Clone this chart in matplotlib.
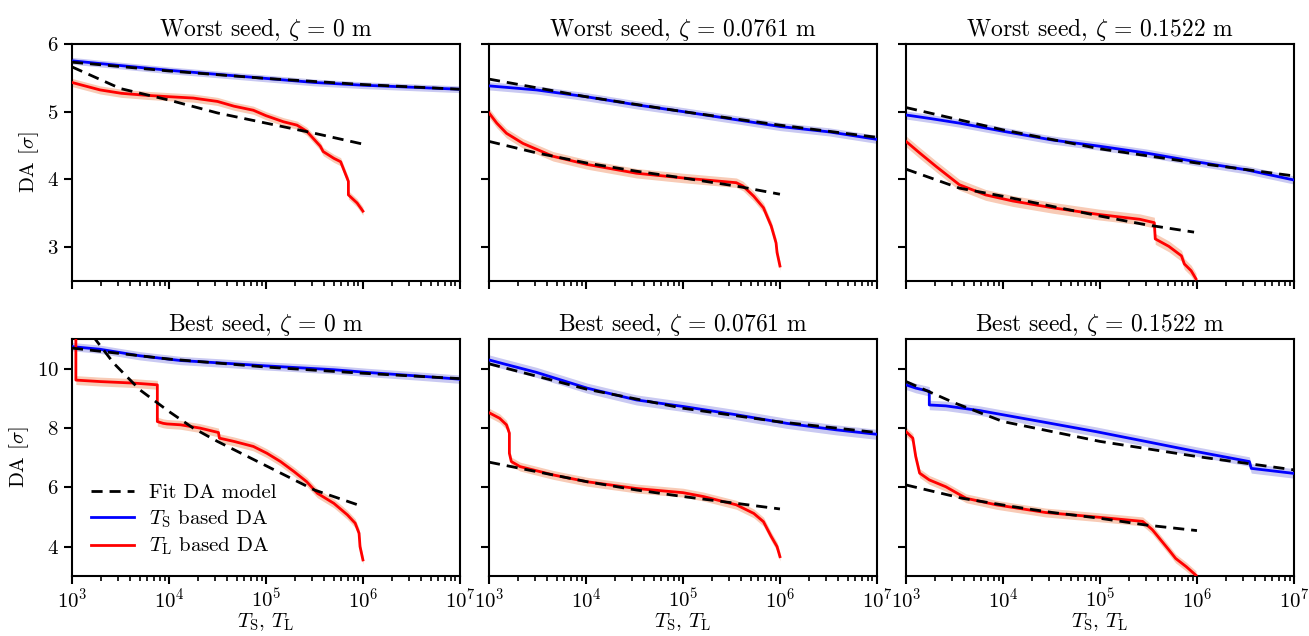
import numpy as np
import matplotlib
matplotlib.use("Agg")
import matplotlib.pyplot as plt

plt.rcParams['font.family'] = 'serif'
plt.rcParams['font.serif'] = ['cmr10']
plt.rcParams['mathtext.fontset'] = 'cm'
plt.rcParams['axes.formatter.use_mathtext'] = True
plt.rcParams['axes.unicode_minus'] = False

titles = [
    [r"Worst seed, $\zeta\,=\,0$ m", r"Worst seed, $\zeta\,=\,0.0761$ m", r"Worst seed, $\zeta\,=\,0.1522$ m"],
    [r"Best seed, $\zeta\,=\,0$ m", r"Best seed, $\zeta\,=\,0.0761$ m", r"Best seed, $\zeta\,=\,0.1522$ m"],
]
ylims = [(2.5, 6.0), (3.0, 11.0)]
yticks = [[3, 4, 5, 6], [4, 6, 8, 10]]

# ---- data: log10(T) and DA [sigma] ----
# Worst seed, zeta = 0
w0_ts_x = [3.0, 3.5, 4.0, 4.5, 5.0, 5.5, 6.0, 6.5, 7.0]
w0_ts_y = [5.75, 5.68, 5.61, 5.55, 5.49, 5.43, 5.39, 5.36, 5.33]
w0_tsfit_x = [3.0, 4.0, 5.0, 6.0, 7.0]
w0_tsfit_y = [5.73, 5.60, 5.49, 5.40, 5.33]
w0_tl_x = [3.0, 3.29, 3.51, 3.77, 4.0, 4.25, 4.5, 4.67, 4.87, 5.0, 5.18, 5.32, 5.42, 5.56, 5.59, 5.70, 5.77, 5.85, 5.85, 5.94, 6.0]
w0_tl_y = [5.43, 5.32, 5.27, 5.24, 5.22, 5.20, 5.15, 5.08, 5.02, 4.94, 4.85, 4.80, 4.71, 4.49, 4.41, 4.31, 4.26, 3.97, 3.77, 3.65, 3.53]
w0_tlfit_x = [3.0, 3.5, 4.0, 4.5, 5.0, 5.5, 6.0]
w0_tlfit_y = [5.66, 5.34, 5.17, 4.98, 4.83, 4.68, 4.52]

# Worst seed, zeta = 0.0761
w1_ts_x = [3.0, 3.49, 4.0, 4.52, 5.0, 5.55, 6.0, 6.51, 7.0]
w1_ts_y = [5.38, 5.32, 5.22, 5.10, 5.00, 4.88, 4.78, 4.70, 4.59]
w1_tsfit_x = [3.0, 4.0, 5.0, 6.0, 7.0]
w1_tsfit_y = [5.48, 5.22, 5.00, 4.80, 4.62]
w1_tl_x = [3.0, 3.08, 3.18, 3.35, 3.66, 4.01, 4.52, 5.0, 5.55, 5.62, 5.73, 5.83, 5.91, 5.96, 5.97, 6.0]
w1_tl_y = [4.98, 4.83, 4.68, 4.53, 4.34, 4.22, 4.09, 4.02, 3.95, 3.90, 3.75, 3.58, 3.31, 3.06, 2.92, 2.72]
w1_tlfit_x = [3.0, 3.49, 4.01, 4.52, 5.0, 5.55, 6.0]
w1_tlfit_y = [4.56, 4.39, 4.24, 4.12, 4.02, 3.90, 3.78]

# Worst seed, zeta = 0.1522
w2_ts_x = [3.0, 3.24, 3.55, 4.0, 4.51, 4.99, 5.47, 5.99, 6.51, 7.0]
w2_ts_y = [4.95, 4.90, 4.83, 4.71, 4.58, 4.49, 4.39, 4.26, 4.14, 3.99]
w2_tsfit_x = [3.0, 4.0, 5.0, 6.0, 7.0]
w2_tsfit_y = [5.06, 4.73, 4.45, 4.24, 4.05]
w2_tl_x = [3.0, 3.14, 3.31, 3.55, 3.82, 4.10, 4.51, 4.99, 5.41, 5.56, 5.57, 5.71, 5.84, 5.87, 5.94, 5.99]
w2_tl_y = [4.56, 4.39, 4.19, 3.92, 3.77, 3.68, 3.58, 3.48, 3.41, 3.36, 3.12, 3.01, 2.87, 2.75, 2.65, 2.53]
w2_tlfit_x = [3.0, 3.55, 4.0, 4.51, 4.99, 5.47, 5.97]
w2_tlfit_y = [4.15, 3.87, 3.75, 3.60, 3.46, 3.33, 3.22]

# Best seed, zeta = 0
b0_ts_x = [3.0, 3.29, 3.70, 4.12, 4.67, 5.0, 5.70, 6.04, 6.56, 7.0]
b0_ts_y = [10.75, 10.66, 10.44, 10.28, 10.17, 10.10, 9.97, 9.88, 9.76, 9.65]
b0_tsfit_x = [3.0, 4.0, 5.0, 6.0, 7.0]
b0_tsfit_y = [10.70, 10.33, 10.06, 9.85, 9.67]
b0_tl_x = [3.0, 3.04, 3.04, 3.29, 3.63, 3.88, 3.88, 3.94, 3.98, 4.12, 4.32, 4.51, 4.52, 4.67, 4.87, 5.01, 5.15, 5.29, 5.42, 5.53, 5.70, 5.84, 5.92, 5.96, 5.97, 6.0]
b0_tl_y = [11.5, 11.5, 9.62, 9.57, 9.52, 9.46, 8.22, 8.16, 8.14, 8.11, 8.00, 7.85, 7.66, 7.55, 7.38, 7.15, 6.87, 6.53, 6.19, 5.80, 5.46, 5.07, 4.79, 4.45, 4.00, 3.55]
b0_tlfit_x = [3.0, 3.24, 3.43, 3.70, 4.0, 4.25, 4.5, 5.0, 5.5, 6.0]
b0_tlfit_y = [12.1, 11.0, 10.19, 9.29, 8.56, 8.00, 7.55, 6.73, 5.91, 5.35]

# Best seed, zeta = 0.0761
b1_ts_x = [3.0, 3.15, 3.49, 4.01, 4.52, 5.0, 5.55, 6.07, 6.58, 7.0]
b1_ts_y = [10.30, 10.17, 9.88, 9.35, 8.95, 8.73, 8.45, 8.16, 7.94, 7.79]
b1_tsfit_x = [3.0, 4.01, 5.0, 5.97, 7.0]
b1_tsfit_y = [10.17, 9.31, 8.67, 8.22, 7.85]
b1_tl_x = [3.0, 3.11, 3.18, 3.21, 3.21, 3.23, 3.32, 3.66, 4.01, 4.52, 5.0, 5.21, 5.55, 5.73, 5.83, 5.91, 5.97, 6.0]
b1_tl_y = [8.52, 8.33, 8.11, 7.83, 7.15, 6.87, 6.70, 6.42, 6.19, 5.96, 5.82, 5.69, 5.41, 5.12, 4.84, 4.34, 4.00, 3.66]
b1_tlfit_x = [3.0, 3.49, 4.01, 4.52, 5.0, 5.55, 6.0]
b1_tlfit_y = [6.85, 6.53, 6.19, 5.91, 5.69, 5.46, 5.27]

# Best seed, zeta = 0.1522
b2_ts_x = [3.0, 3.10, 3.24, 3.24, 3.41, 3.76, 4.10, 4.44, 4.96, 5.47, 5.99, 6.54, 6.56, 7.0]
b2_ts_y = [9.46, 9.35, 9.24, 8.78, 8.75, 8.59, 8.39, 8.19, 7.88, 7.55, 7.21, 6.87, 6.64, 6.47]
b2_tsfit_x = [3.0, 3.5, 4.0, 5.0, 6.0, 7.0]
b2_tsfit_y = [9.57, 8.85, 8.22, 7.55, 7.04, 6.59]
b2_tl_x = [3.0, 3.07, 3.10, 3.14, 3.24, 3.41, 3.62, 3.93, 4.44, 4.99, 5.44, 5.54, 5.71, 5.78, 5.89, 5.99]
b2_tl_y = [7.88, 7.66, 7.04, 6.48, 6.25, 6.02, 5.63, 5.41, 5.15, 4.99, 4.85, 4.57, 3.89, 3.60, 3.32, 3.03]
b2_tlfit_x = [3.0, 3.58, 4.10, 4.51, 4.99, 5.47, 6.0]
b2_tlfit_y = [6.08, 5.63, 5.35, 5.15, 4.96, 4.73, 4.54]

# half-widths of the uncertainty bands (sigma)
ts_band = [[0.05, 0.06, 0.06], [0.14, 0.17, 0.16]]
tl_band = [[0.06, 0.07, 0.08], [0.15, 0.15, 0.15]]

panels = [
    [(w0_ts_x, w0_ts_y, w0_tsfit_x, w0_tsfit_y, w0_tl_x, w0_tl_y, w0_tlfit_x, w0_tlfit_y),
     (w1_ts_x, w1_ts_y, w1_tsfit_x, w1_tsfit_y, w1_tl_x, w1_tl_y, w1_tlfit_x, w1_tlfit_y),
     (w2_ts_x, w2_ts_y, w2_tsfit_x, w2_tsfit_y, w2_tl_x, w2_tl_y, w2_tlfit_x, w2_tlfit_y)],
    [(b0_ts_x, b0_ts_y, b0_tsfit_x, b0_tsfit_y, b0_tl_x, b0_tl_y, b0_tlfit_x, b0_tlfit_y),
     (b1_ts_x, b1_ts_y, b1_tsfit_x, b1_tsfit_y, b1_tl_x, b1_tl_y, b1_tlfit_x, b1_tlfit_y),
     (b2_ts_x, b2_ts_y, b2_tsfit_x, b2_tsfit_y, b2_tl_x, b2_tl_y, b2_tlfit_x, b2_tlfit_y)],
]

fig, axes = plt.subplots(2, 3, figsize=(13.09, 6.36), dpi=100, sharex=True)
fig.subplots_adjust(left=0.055, right=0.9885, top=0.931, bottom=0.094, wspace=0.075, hspace=0.246)

for r in range(2):
    for c in range(3):
        ax = axes[r, c]
        tsx, tsy, tsfx, tsfy, tlx, tly, tlfx, tlfy = panels[r][c]
        tsx = 10 ** np.array(tsx); tsy = np.array(tsy)
        tlx = 10 ** np.array(tlx); tly = np.array(tly)
        ax.fill_between(tsx, tsy - ts_band[r][c], tsy + ts_band[r][c], color='#c9c9f2', lw=0, zorder=1)
        ax.fill_between(tlx, tly - tl_band[r][c], tly + tl_band[r][c], color='#f8cbb6', lw=0, zorder=1)
        ax.plot(10 ** np.array(tsfx), tsfy, 'k--', lw=2, dashes=(4, 2.5), zorder=4)
        ax.plot(10 ** np.array(tlfx), tlfy, 'k--', lw=2, dashes=(4, 2.5), zorder=4, label='Fit DA model')
        ax.plot(tsx, tsy, color='blue', lw=2, zorder=3, label=r'$T_\mathrm{S}$ based DA')
        ax.plot(tlx, tly, color='red', lw=2, zorder=3, label=r'$T_\mathrm{L}$ based DA')
        ax.set_xscale('log')
        ax.set_xlim(1e3, 1e7)
        ax.set_ylim(*ylims[r])
        ax.set_yticks(yticks[r])
        ax.set_title(titles[r][c], fontsize=17)
        ax.tick_params(which='both', direction='out', labelsize=15, width=1.5)
        ax.tick_params(which='major', length=6)
        ax.tick_params(which='minor', length=3.5, width=1.2)
        ax.tick_params(axis='x', pad=2)
        for s in ax.spines.values():
            s.set_linewidth(1.5)
        if c == 0:
            ax.set_ylabel(r'DA [$\sigma$]', fontsize=15)
        else:
            ax.tick_params(labelleft=False)
        if r == 1:
            ax.set_xlabel(r'$T_\mathrm{S}$, $T_\mathrm{L}$', fontsize=15, labelpad=0)

axes[1, 0].legend(loc='lower left', frameon=False, fontsize=15, handlelength=2.1,
                  handletextpad=0.7, labelspacing=0.3, bbox_to_anchor=(0.0, 0.0))

fig.savefig('out.png', dpi=100)
